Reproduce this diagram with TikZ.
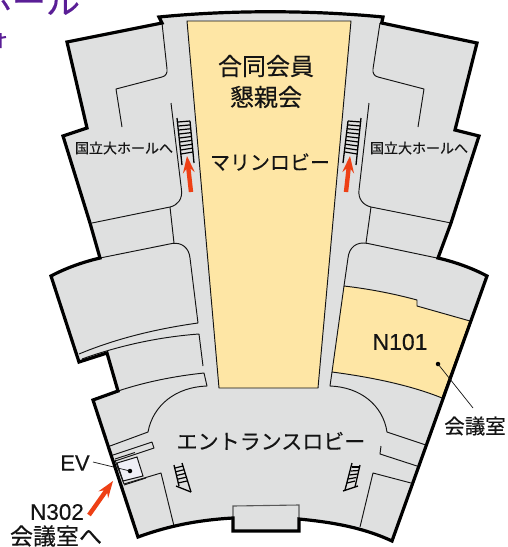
\documentclass[tikz,border=0pt]{standalone}
\usepackage{fontspec}
\setmainfont[FakeBold=0.25]{Liberation Sans}
\newfontfamily\jp[FakeBold=0.35]{Noto Sans CJK JP}
\usetikzlibrary{calc}
\definecolor{floorgray}{HTML}{DFE0E0}
\definecolor{hallyellow}{HTML}{FEE6A5}
\definecolor{evfill}{HTML}{EFEFF6}
\definecolor{redarrow}{HTML}{EE4015}
\definecolor{titlepurple}{HTML}{5A1E96}
\definecolor{inkblack}{HTML}{141414}
\tikzset{
  wall/.style={line width=3.2pt,draw=black,line join=miter},
  thin wall/.style={line width=0.95pt,draw=inkblack,line join=round},
  tread/.style={line width=1.2pt,draw=black},
  rail/.style={line width=1.3pt,draw=black},
  redarr/.style={fill=redarrow,draw=none},
  jlabel/.style={font=\jp,text=inkblack,inner sep=0pt},
  llabel/.style={text=inkblack,inner sep=0pt},
}
\newcommand{\stairflight}[9]{%
  \draw[rail] #1 -- #2;
  \draw[rail] #3 -- #4;
  \foreach \tt in {0,...,#9}{
    \pgfmathsetmacro{\ff}{\tt/#9}
    \draw[tread] ($#5!\ff!#7$) -- ($#6!\ff!#8$);
  }
}
\newcommand{\upshaft}[3]{% tail, tip, name
  \coordinate (#3t) at #1; \coordinate (#3h) at #2;
  \coordinate (#3n) at ($(#3h)!13pt!(#3t)$);
  \coordinate (#3w) at ($(#3h)!17pt!(#3t)$);
  \fill[redarr] ($(#3t)!2.2pt!90:(#3h)$) -- ($(#3n)!2.2pt!-90:(#3t)$)
     -- ($(#3w)!6pt!-90:(#3t)$) -- (#3h) -- ($(#3w)!6pt!90:(#3t)$)
     -- ($(#3n)!2.2pt!90:(#3t)$) -- ($(#3t)!2.2pt!-90:(#3h)$) -- cycle;
}
\begin{document}
\begin{tikzpicture}[x=1pt,y=-1pt]
\useasboundingbox (0,0) rectangle (507,547);
\clip (0,0) rectangle (507,547);
\fill[white] (0,0) rectangle (507,547);

% cut-off heading
\node[font=\jp,text=titlepurple,anchor=base,inner sep=0pt] (heading) at (29,14) {\fontsize{34}{34}\selectfont ホール};
\draw[titlepurple,line width=2pt] (0.5,33) -- (0.5,48) (0,38) -- (6,37);

% floor
\path[fill=floorgray] (159,17) .. controls (230,10) and (310,10) .. (383,17)
  -- (381.7,23) -- (477,43) -- (455,130) -- (479,136) -- (451,223) -- (438,258)
  .. controls (455,262) and (472,268) .. (487,276)
  -- (392,541) .. controls (362,527) and (330,522) .. (299,519)
  -- (299,531) -- (233,531) -- (233,518)
  .. controls (198,520) and (168,526) .. (138,537)
  -- (93,400) -- (118,391) -- (107,353) -- (79,362) -- (51,276)
  .. controls (66,268) and (83,262) .. (100,258)
  -- (90,223) -- (63,136) -- (87,128) -- (67,42) -- (162,23) -- cycle;

% main hall
\draw[thin wall,fill=hallyellow] (187,21) -- (351,21) -- (318,388) -- (219,388) -- cycle;
% N101
\draw[thin wall,fill=hallyellow] (344,286) .. controls (370,289) and (395,294) .. (417,300)
  -- (417,306) -- (470,321) -- (442,398)
  .. controls (410,385) and (370,377) .. (332,372) -- cycle;

% left partitions
\draw[thin wall] (162,23) -- (167,69) .. controls (167.5,73) and (166,76) .. (162,77) -- (116,89) -- (122,127);
\draw[thin wall] (171,103) -- (181.5,190) .. controls (182.5,199) and (178,205) .. (170,207) -- (92,223);
\draw[thin wall] (170,207) -- (174,243);
\draw[thin wall] (100,258) -- (172,243.5) .. controls (182,242) and (189,248) .. (190,258) -- (198,323)
  .. controls (155,329) and (115,339) .. (79,354);
\draw[thin wall] (82,359) .. controls (118,346) and (158,337) .. (199,334) -- (203,366);
\draw[thin wall] (118,391) .. controls (145,382) and (175,376) .. (204,373) -- (207,386)
  .. controls (176,387) and (153,405) .. (148,432) -- (110,446);
\draw[thin wall] (113,455) -- (152,442) -- (154,448) -- (115,461);
\draw[thin wall] (124,484) -- (161,473) -- (174,526);

% right partitions
\draw[thin wall] (380,23) -- (373,69) .. controls (372.5,73) and (374,76) .. (378,77) -- (424,89) -- (418,127);
\draw[thin wall] (369,103) -- (359,190) .. controls (358,199) and (363,205) .. (371,207) -- (451,223);
\draw[thin wall] (371,207) -- (366,243);
\draw[thin wall] (437,258) -- (368,243.5) .. controls (356,241) and (349,248) .. (348,258) -- (344,286);
\draw[thin wall] (332,372) -- (330,386) .. controls (360,387) and (383,405) .. (387,432) -- (426,445);
\draw[thin wall] (381,446) -- (380,454) -- (417,466);
\draw[thin wall] (360,527) -- (373,473) -- (411,483);

% stage block
\draw[line width=1.1pt,draw=black!65] (233,518) -- (233,506) -- (299,505) -- (299,519);

% EV
\draw[thin wall] (115,459) -- (135,452.5) (124,485) -- (146,478);
\draw[line width=1pt,draw=inkblack,fill=evfill] (117,463) -- (137,457) -- (143,476) -- (123,481) -- cycle;
\draw[thin wall] (115,460) -- (124,484);
\node[circle,fill=black,inner sep=0pt,minimum size=4.5pt] (evdot) at (130,471) {};

% thick outer walls
\draw[wall] (159,17) .. controls (230,10) and (310,10) .. (383,17)
  -- (381.7,23) -- (477,43) -- (455,130) -- (479,136) -- (451,223) -- (438,258)
  .. controls (455,262) and (472,268) .. (487,276)
  -- (392,541) .. controls (362,527) and (330,522) .. (299,519)
  -- (299,531) -- (233,531) -- (233,518)
  .. controls (198,520) and (168,526) .. (138,537)
  -- (93,400) -- (118,391) -- (107,353) -- (79,362) -- (51,276)
  .. controls (66,268) and (83,262) .. (100,258)
  -- (90,223) -- (63,136) -- (87,128) -- (67,42) -- (162,23) -- cycle;

% stairs
\stairflight{(177,118)}{(182,165)}{(190,121)}{(194,163)}{(178,122)}{(190,121)}{(181,154)}{(193,152)}{8}
\stairflight{(361,118)}{(356,165)}{(348,121)}{(343,163)}{(361,122)}{(348,121)}{(357,154)}{(345,152)}{8}
\stairflight{(174,465)}{(179,486)}{(182,463)}{(191,492)}{(175,468)}{(183,466)}{(178,483)}{(187,481)}{4}
\draw[rail] (176,486) -- (191,492);
\stairflight{(352,463)}{(345,490)}{(360,465)}{(355,487)}{(352,467)}{(360,467)}{(347,483)}{(355,481)}{4}
\draw[rail] (343,491) -- (358,486);

% red arrows
\upshaft{(191,192)}{(187,156)}{ra}
\upshaft{(346,192)}{(350,156)}{rb}
\upshaft{(89,515)}{(113,481)}{rc}

% labels
\node[jlabel,font=\jp\fontsize{24}{24}\selectfont] (l1) at (266,66) {合同会員};
\node[jlabel,font=\jp\fontsize{24}{24}\selectfont] (l2) at (266,97) {懇親会};
\node[jlabel,font=\jp\fontsize{20}{20}\selectfont] (l3) at (270,162) {マリンロビー};
\node[jlabel,font=\jp\fontsize{21}{21}\selectfont] (l4) at (271,441) {エントランスロビー};
\node[jlabel,font=\jp\fontsize{14}{14}\selectfont] (l5) at (124,148) {国立大ホールへ};
\node[jlabel,font=\jp\fontsize{14}{14}\selectfont] (l6) at (419,148) {国立大ホールへ};
\node[llabel,font=\fontsize{23}{23}\selectfont] (n101) at (400,342) {N101};
\node[jlabel,font=\jp\fontsize{20.5}{20.5}\selectfont] (room) at (475,426) {会議室};
\node[llabel,font=\fontsize{22}{22}\selectfont] (ev) at (75,463) {EV};
\node[llabel,font=\fontsize{22.5}{22.5}\selectfont] (n302) at (57,512) {N302};
\node[jlabel,font=\jp\fontsize{23}{23}\selectfont] (toroom) at (56,536) {会議室へ};

% leaders
\coordinate (evfree) at (93,462);
\draw[line width=0.7pt,draw=inkblack] (evfree) -- (evdot.center);
\node[circle,fill=black,inner sep=0pt,minimum size=4.5pt] (ndot) at (438,364) {};
\coordinate (roomfree) at (473,408);
\draw[line width=0.7pt,draw=inkblack] (ndot.center) -- (roomfree);
\end{tikzpicture}
\end{document}
